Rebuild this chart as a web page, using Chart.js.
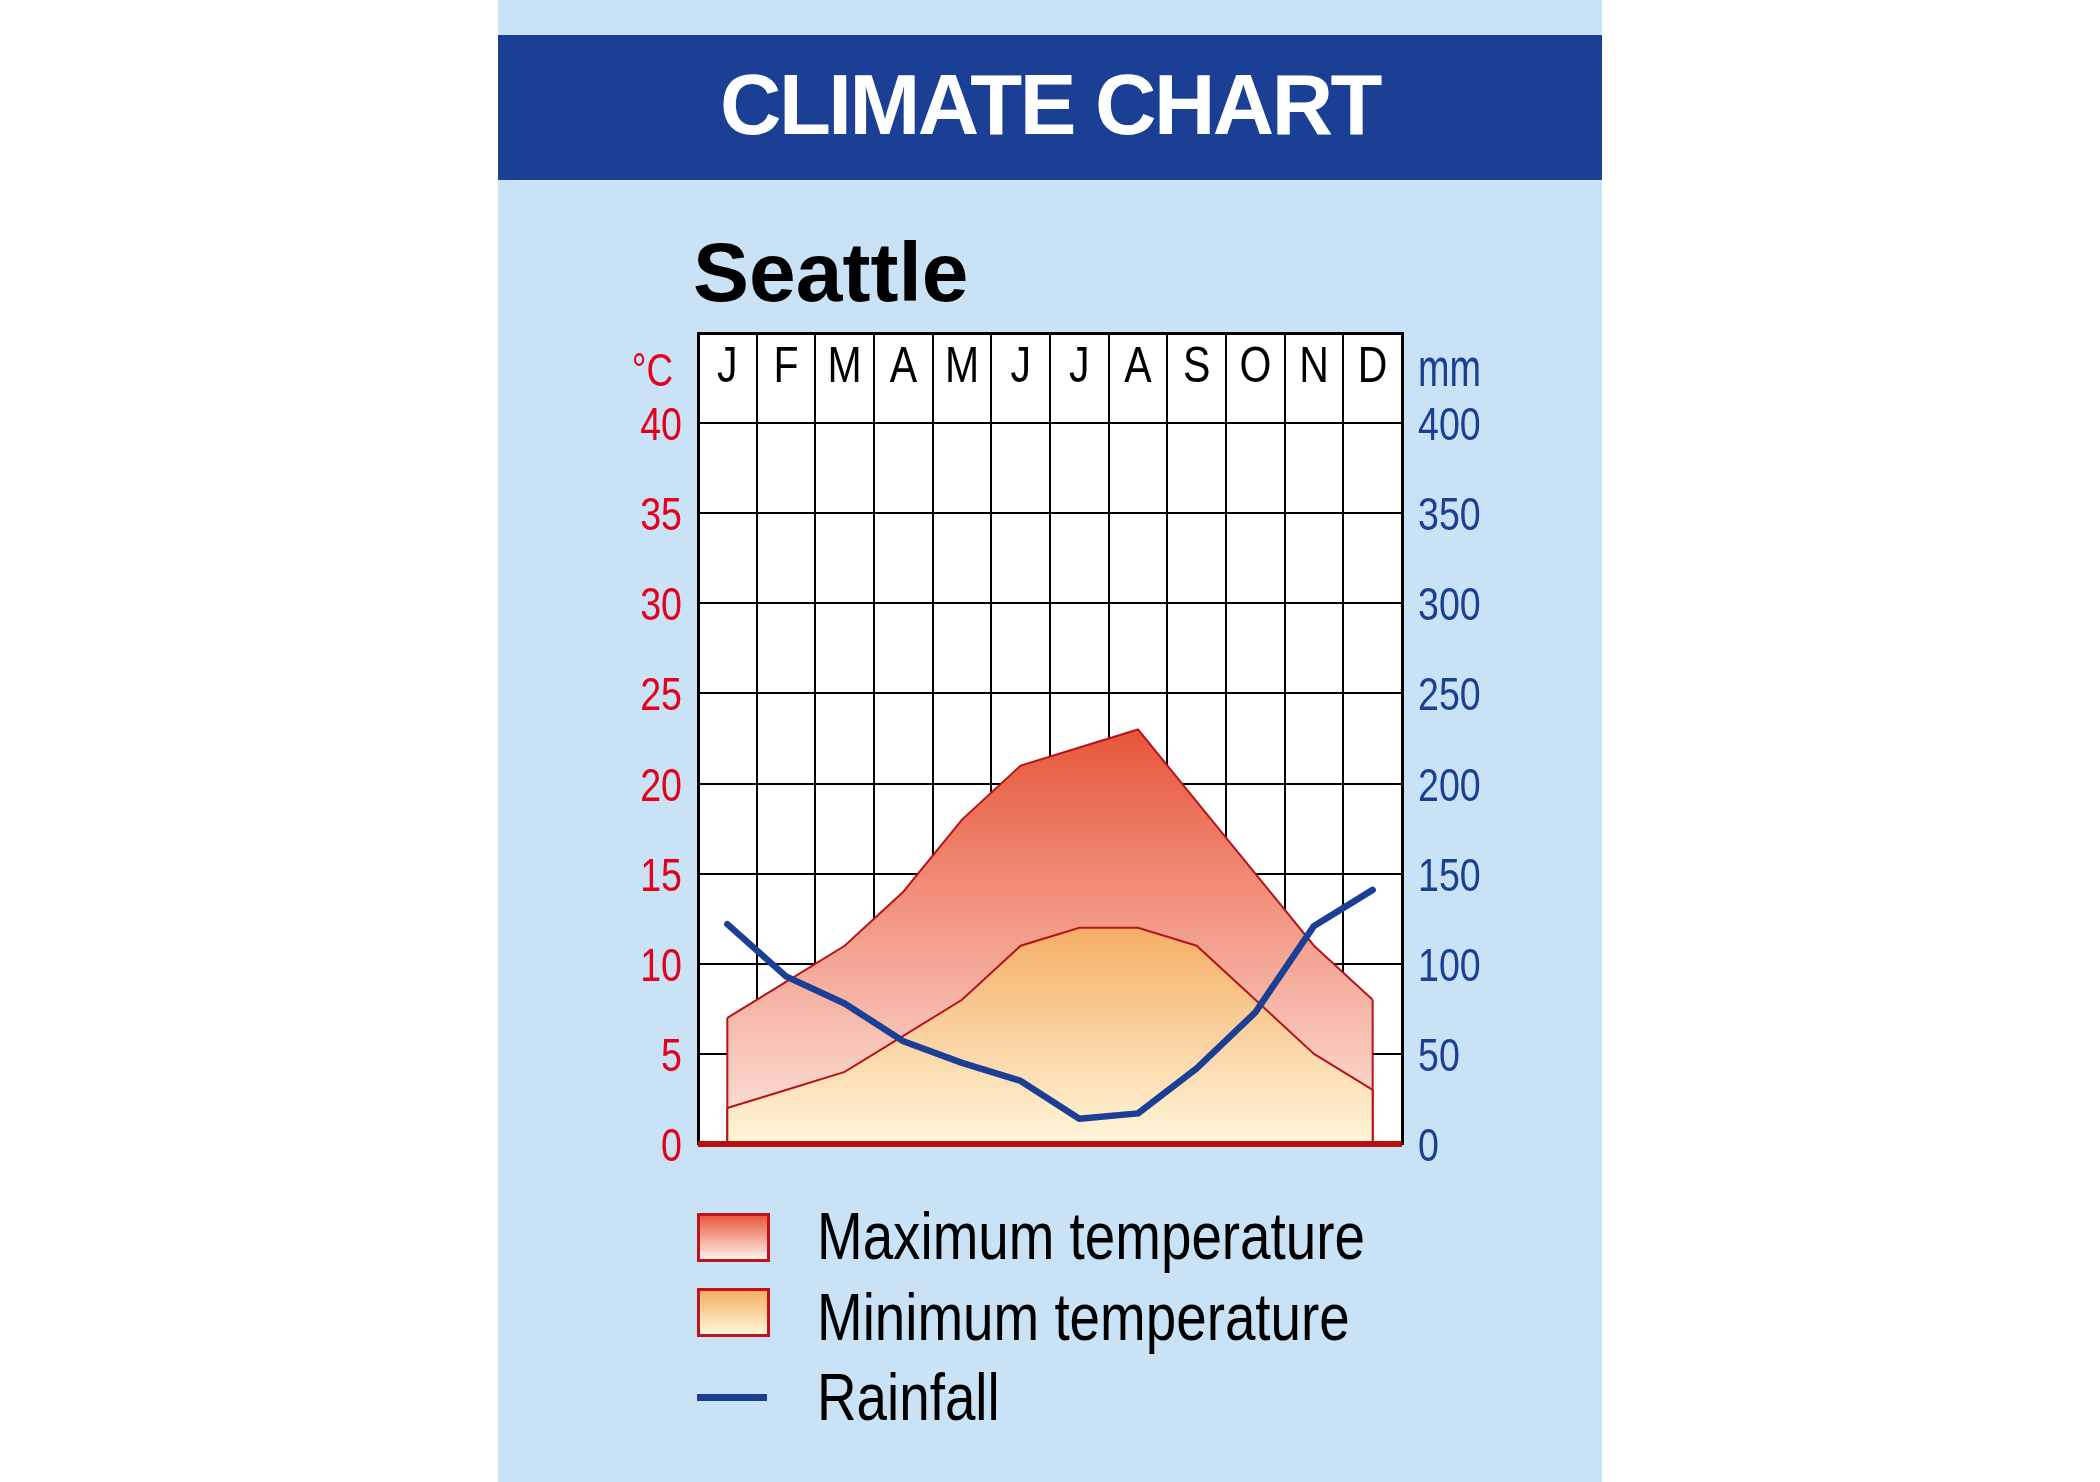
<!DOCTYPE html>
<html>
<head>
<meta charset="utf-8">
<script src="https://cdn.jsdelivr.net/npm/chart.js@4.4.1/dist/chart.umd.min.js"></script>
<style>
  html, body { margin:0; padding:0; background:#ffffff; width:2100px; height:1482px; overflow:hidden; }
  body { position:relative; font-family:'Liberation Sans', Arial, sans-serif; }
  #panel { position:absolute; left:498px; top:0; width:1104px; height:1482px; background:#c9e2f6; }
  #bar { position:absolute; left:498px; top:35px; width:1104px; height:145px; background:#1a3f95; }
  #title { position:absolute; left:498px; width:1104px; top:62px; text-align:center; color:#fff;
           font:bold 85px/85px 'Liberation Sans', Arial, sans-serif; letter-spacing:-2.5px; white-space:nowrap; }
  #city { position:absolute; left:693px; top:230px; color:#000; font:bold 84px/84px 'Liberation Sans', Arial, sans-serif; white-space:nowrap; }
  #wrap { position:absolute; left:560px; top:300px; width:960px; height:900px; }
  .box { position:absolute; left:697px; width:67px; height:43px; border:3px solid #c0121a; }
  #box1 { top:1213px; background:linear-gradient(#e95a3d, #fdf1ec); }
  #box2 { top:1288px; background:linear-gradient(#f6b064, #fff5d8); }
  #rline { position:absolute; left:697px; top:1394px; width:70px; height:7px; background:#1a3f94; }
  .lt { position:absolute; left:817px; color:#000; white-space:nowrap; transform-origin:0 0; transform:scaleX(0.83);
        font:66px/66px 'Liberation Sans', Arial, sans-serif; }
</style>
</head>
<body>
<div id="panel"></div>
<div id="bar"></div>
<div id="title">CLIMATE CHART</div>
<div id="city">Seattle</div>
<div id="wrap"><canvas id="c" width="960" height="900"></canvas></div>
<div class="box" id="box1"></div>
<div class="box" id="box2"></div>
<div id="rline"></div>
<div class="lt" style="top:1203px">Maximum temperature</div>
<div class="lt" style="top:1284px">Minimum temperature</div>
<div class="lt" style="top:1364px">Rainfall</div>
<script>
// ---- data ----
const months   = ['J','F','M','A','M','J','J','A','S','O','N','D'];
const maxTemp  = [7, 9, 11, 14, 18, 21, 22, 23, 19, 15, 11, 8];
const minTemp  = [2, 3, 4, 6, 8, 11, 12, 12, 11, 8, 5, 3];
const rainfall = [122, 93, 78, 57, 45, 35, 14, 17, 42, 73, 121, 141];
const tempTicks = [0, 5, 10, 15, 20, 25, 30, 35, 40];
const rainTicks = [0, 50, 100, 150, 200, 250, 300, 350, 400];
const tempUnit = '°C';
const rainUnit = 'mm';

const FAM = "'Liberation Sans', Arial, sans-serif";
const RED = '#e2001a', BLUE = '#1b3f93', EDGE = '#b4141a';

function vGrad(chart, values, top, bottom) {
  const { ctx, chartArea, scales } = chart;
  if (!chartArea) return top;
  const yTop = scales.y.getPixelForValue(Math.max(...values));
  const yBot = scales.y.getPixelForValue(0);
  const g = ctx.createLinearGradient(0, yTop, 0, yBot);
  g.addColorStop(0, top);
  g.addColorStop(1, bottom);
  return g;
}

function narrowText(ctx, text, x, y, align, size, sx, color) {
  ctx.save();
  ctx.translate(x, y);
  ctx.scale(sx, 1);
  ctx.font = size + 'px ' + FAM;
  ctx.fillStyle = color;
  ctx.textAlign = align;
  ctx.textBaseline = 'alphabetic';
  ctx.fillText(text, 0, 0);
  ctx.restore();
}

const deco = {
  id: 'deco',
  beforeDraw(chart) {
    const { ctx, chartArea: a } = chart;
    ctx.save();
    ctx.fillStyle = '#ffffff';
    ctx.fillRect(a.left, a.top, a.right - a.left, a.bottom - a.top);
    ctx.restore();
  },
  afterDatasetDraw(chart, args) {
    if (args.index > 1) return;
    const pts = args.meta.data;
    const y0 = chart.scales.y.getPixelForValue(0);
    const ctx = chart.ctx;
    ctx.save();
    ctx.strokeStyle = EDGE;
    ctx.lineWidth = 2;
    [pts[0], pts[pts.length - 1]].forEach(p => {
      ctx.beginPath();
      ctx.moveTo(p.x, p.y);
      ctx.lineTo(p.x, y0);
      ctx.stroke();
    });
    ctx.restore();
  },
  afterDatasetsDraw(chart) {
    const { ctx, chartArea: a } = chart;
    const y0 = chart.scales.y.getPixelForValue(0);
    ctx.save();
    ctx.strokeStyle = '#b8100f';
    ctx.lineWidth = 6;
    ctx.beginPath();
    ctx.moveTo(a.left, y0);
    ctx.lineTo(a.right, y0);
    ctx.stroke();
    ctx.restore();
  },
  afterDraw(chart) {
    const { ctx, chartArea: a, scales } = chart;
    const yBase = scales.y.getPixelForValue(tempTicks[tempTicks.length - 1]);
    // month labels
    months.forEach((m, i) => {
      narrowText(ctx, m, scales.x.getPixelForValue(i), yBase - 41, 'center', 50, 0.82, '#000');
    });
    // axis tick labels
    tempTicks.forEach(v => {
      narrowText(ctx, String(v), a.left - 16, scales.y.getPixelForValue(v) + 17, 'right', 47, 0.8, RED);
    });
    rainTicks.forEach(v => {
      narrowText(ctx, String(v), a.right + 16, scales.y1.getPixelForValue(v) + 17, 'left', 47, 0.8, BLUE);
    });
    // units
    narrowText(ctx, tempUnit, a.left - 25, yBase - 37, 'right', 46, 0.8, RED);
    narrowText(ctx, rainUnit, a.right + 16, yBase - 37, 'left', 54, 0.7, BLUE);
  }
};

new Chart(document.getElementById('c'), {
  type: 'line',
  data: {
    labels: months,
    datasets: [
      {
        label: 'Maximum temperature',
        data: maxTemp,
        yAxisID: 'y',
        fill: 'origin',
        borderColor: EDGE,
        borderWidth: 2,
        pointRadius: 0,
        tension: 0,
        order: 3,
        backgroundColor: ctx => vGrad(ctx.chart, maxTemp, '#e8553a', '#fde7de')
      },
      {
        label: 'Minimum temperature',
        data: minTemp,
        yAxisID: 'y',
        fill: 'origin',
        borderColor: EDGE,
        borderWidth: 2,
        pointRadius: 0,
        tension: 0,
        order: 2,
        backgroundColor: ctx => vGrad(ctx.chart, minTemp, '#f5ad66', '#fef6da')
      },
      {
        label: 'Rainfall',
        data: rainfall,
        yAxisID: 'y1',
        fill: false,
        borderColor: '#1a3f94',
        borderWidth: 6.5,
        borderCapStyle: 'round',
        borderJoinStyle: 'round',
        pointRadius: 0,
        tension: 0,
        order: 1
      }
    ]
  },
  options: {
    responsive: false,
    animation: false,
    devicePixelRatio: 1,
    layout: { padding: { top: 33, bottom: 56, left: 0, right: 0 } },
    plugins: { legend: { display: false }, tooltip: { enabled: false } },
    scales: {
      x: {
        type: 'category',
        offset: true,
        grid: { offset: true, color: '#000', lineWidth: 2, drawTicks: false },
        border: { display: false },
        ticks: { display: false },
        afterFit: s => { s.height = 0; }
      },
      y: {
        position: 'left',
        min: 0, max: 45,
        ticks: { stepSize: 5, display: false },
        grid: {
          drawTicks: false,
          color: c => c.tick && c.tick.value === 0 ? 'rgba(0,0,0,0)' : '#000',
          lineWidth: c => c.tick && c.tick.value === 45 ? 3 : 2
        },
        border: { display: true, color: '#000', width: 3 },
        afterFit: s => { s.width = 138; }
      },
      y1: {
        position: 'right',
        min: 0, max: 450,
        ticks: { stepSize: 50, display: false },
        grid: { drawOnChartArea: false, drawTicks: false },
        border: { display: true, color: '#000', width: 3 },
        afterFit: s => { s.width = 118; }
      }
    }
  },
  plugins: [deco]
});
</script>
</body>
</html>
